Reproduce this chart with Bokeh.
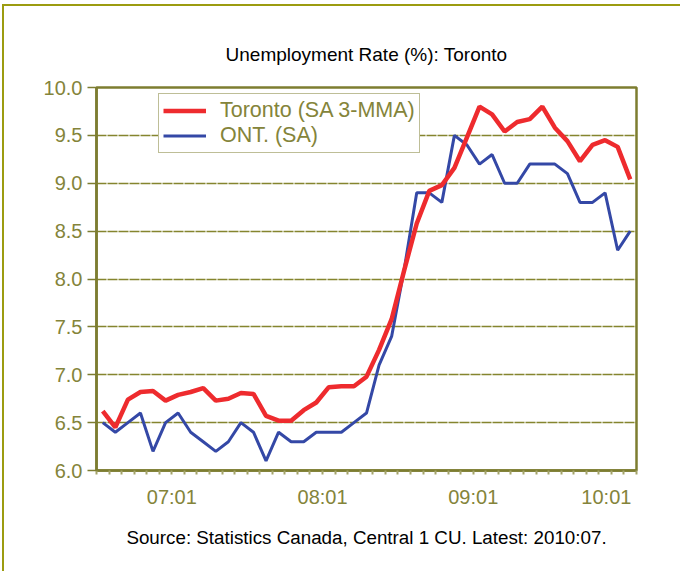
from bokeh.plotting import figure
from bokeh.models import (Range1d, FixedTicker, Legend, LegendItem, Title, Whisker,
                          ColumnDataSource, PrintfTickFormatter, CustomJSTickFormatter)
from bokeh.embed import file_html
from bokeh.resources import INLINE

# ---------------- data ----------------
months = [f"{y}:{m:02d}" for y in range(2007, 2011) for m in range(1, 13)][:43]  # 2007:01 .. 2010:07

toronto = [6.62, 6.45, 6.74, 6.82, 6.83, 6.73, 6.79, 6.82, 6.86, 6.73,
           6.75, 6.81, 6.80, 6.57, 6.52, 6.52, 6.63, 6.71, 6.87, 6.88,
           6.88, 6.98, 7.26, 7.58, 8.09, 8.58, 8.92, 8.98, 9.16, 9.48,
           9.80, 9.72, 9.54, 9.64, 9.67, 9.80, 9.58, 9.44, 9.23, 9.40,
           9.45, 9.38, 9.04]

ontario = [6.5, 6.4, 6.5, 6.6, 6.2, 6.5, 6.6, 6.4, 6.3, 6.2,
           6.3, 6.5, 6.4, 6.1, 6.4, 6.3, 6.3, 6.4, 6.4, 6.4,
           6.5, 6.6, 7.1, 7.4, 8.1, 8.9, 8.9, 8.8, 9.5, 9.4,
           9.2, 9.3, 9.0, 9.0, 9.2, 9.2, 9.2, 9.1, 8.8, 8.8,
           8.9, 8.3, 8.5]

year_labels = ["07:01", "08:01", "09:01", "10:01"]
y_ticks = [6.0, 6.5, 7.0, 7.5, 8.0, 8.5, 9.0, 9.5, 10.0]

title_text = "Unemployment Rate (%): Toronto"
source_text = "Source: Statistics Canada, Central 1 CU. Latest: 2010:07."
series_names = ["Toronto (SA 3-MMA)", "ONT. (SA)"]

# ---------------- style ----------------
FONT = "Liberation Sans"
OLIVE = "#84843a"
FRAME = "#7d7d30"
GRID = "#85852e"
TICK = "#a3a36a"
RED = "#ee2b2e"
BLUE = "#3448a6"
BORDER = "#9c9c10"

Y0, Y1 = 6, 10
n = len(months)
x = [i + 0.5 for i in range(n)]          # each month centred in its slot
year_starts = [i for i, m in enumerate(months) if m.endswith(":01")]
label_pos = [s + 6 for s in year_starts[:-1]] + [year_starts[-1] + 4.6]

FRAME_H = 383
p = figure(width=678, height=567, output_backend="svg", toolbar_location=None,
           x_range=Range1d(0, n), y_range=Range1d(Y0, Y1),
           title=None,
           min_border_left=92, min_border_right=46,
           min_border_top=81, min_border_bottom=103)
p.styles = {"margin-left": "2px", "margin-top": "4px",
            "border-left": f"2px solid {BORDER}", "border-top": f"2px solid {BORDER}"}

p.background_fill_color = "white"
p.border_fill_color = "white"
p.outline_line_color = FRAME
p.outline_line_width = 2.5
p.outline_line_alpha = 1.0

# y axis
yax = p.yaxis[0]
yax.ticker = FixedTicker(ticks=y_ticks, minor_ticks=[])
yax.formatter = PrintfTickFormatter(format="%.1f")
yax.axis_line_color = FRAME
yax.axis_line_width = 2.5
yax.major_tick_line_color = FRAME
yax.major_tick_line_width = 1.5
yax.major_tick_out = 9
yax.major_tick_in = 0
yax.minor_tick_line_color = None
yax.major_label_standoff = 5
yax.major_label_text_font = FONT
yax.major_label_text_font_size = "20px"
yax.major_label_text_color = OLIVE

# grid
p.xgrid.visible = False
p.ygrid.ticker = FixedTicker(ticks=y_ticks)
p.ygrid.grid_line_color = GRID
p.ygrid.grid_line_width = 1.3
p.ygrid.grid_line_dash = "10 1"

# x axis: month ticks + year labels centred in each year
xax = p.xaxis[0]
xax.ticker = FixedTicker(ticks=label_pos, minor_ticks=list(range(n + 1)))
xax.formatter = CustomJSTickFormatter(args={"labels": year_labels}, code="return labels[index];")
xax.axis_line_color = FRAME
xax.axis_line_width = 2.5
xax.major_tick_line_color = None
xax.major_tick_out = 0
xax.major_tick_in = 0
xax.minor_tick_line_color = TICK
xax.minor_tick_line_width = 2
xax.minor_tick_out = 4
xax.minor_tick_in = 0
xax.major_label_standoff = 11
xax.major_label_text_font = FONT
xax.major_label_text_font_size = "20px"
xax.major_label_text_color = OLIVE

# longer ticks at year boundaries (9 px below the frame)
tick_len = 9 * (Y1 - Y0) / FRAME_H
yr_src = ColumnDataSource(dict(x=year_starts, lo=[Y0 - tick_len] * len(year_starts),
                               hi=[Y0] * len(year_starts)))
p.add_layout(Whisker(source=yr_src, base="x", lower="lo", upper="hi", dimension="height",
                     line_color=TICK, line_width=2, lower_head=None, upper_head=None))

# lines
r_ont = p.line(x, ontario, line_color=BLUE, line_width=3)
r_tor = p.line(x, toronto, line_color=RED, line_width=4.5)

legend = Legend(items=[LegendItem(label=series_names[0], renderers=[r_tor]),
                       LegendItem(label=series_names[1], renderers=[r_ont])],
                location=(62, 317))
legend.border_line_color = FRAME
legend.border_line_width = 1.5
legend.background_fill_color = "white"
legend.background_fill_alpha = 1.0
legend.label_text_font = FONT
legend.label_text_font_size = "21.5px"
legend.label_text_color = OLIVE
legend.glyph_width = 43
legend.glyph_height = 25
legend.label_height = 25
legend.spacing = 0
legend.padding = 4
legend.label_standoff = 14
legend.margin = 0
p.add_layout(legend, "center")

# titles
p.add_layout(Title(text=title_text, align="center", text_font=FONT, text_font_size="19px",
                   text_font_style="normal", text_color="black", standoff=45), "above")
p.add_layout(Title(text=source_text, align="center", text_font=FONT, text_font_size="18.8px",
                   text_font_style="normal", text_color="black", standoff=28), "below")

open("out.html", "w").write(file_html(p, INLINE))
